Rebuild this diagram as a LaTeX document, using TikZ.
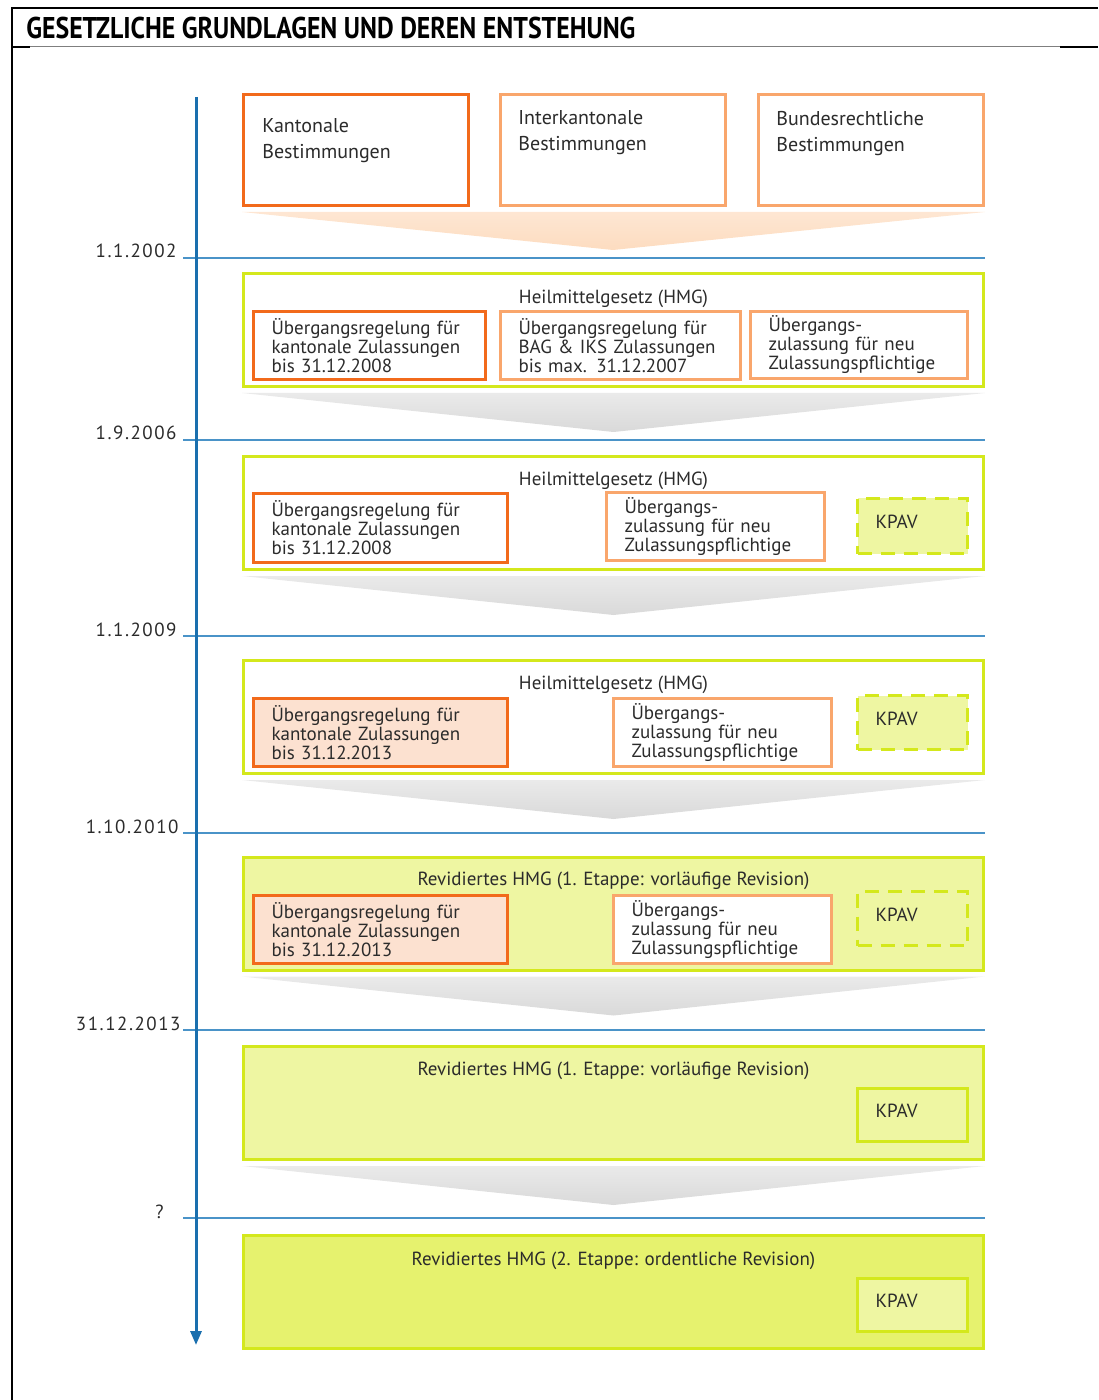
\documentclass[tikz,border=0pt]{standalone}
\usepackage{fontspec}
\setmainfont{PT Sans}
\newfontfamily\titlefont{PT Sans}[FakeStretch=0.86]
\newfontfamily\spacedfont{PT Sans}[LetterSpace=8]
\usepackage{xcolor}
\definecolor{cText}{HTML}{2B2B2B}
\definecolor{cLime}{HTML}{D4E81C}
\definecolor{cLimeLight}{HTML}{EEF6A2}
\definecolor{cLimeMid}{HTML}{E6F26E}
\definecolor{cOrange}{HTML}{F26A1B}
\definecolor{cOrangeLight}{HTML}{F9A66C}
\definecolor{cPeach}{HTML}{FCE1D0}
\definecolor{cFunnel}{HTML}{FDDCC0}
\definecolor{cFunnelGray}{HTML}{D9D9D9}
\definecolor{cBlue}{HTML}{1A6FAE}
\definecolor{cBlueLight}{HTML}{4A93C8}
\definecolor{cRule}{HTML}{7F7F7F}
\usepackage{tikz}
\usetikzlibrary{positioning,arrows.meta,calc}
\tikzset{
  frame/.style={draw=black,line width=1pt},
  node-panel/.style={draw=cLime,line width=1.5pt,minimum width=370pt,
    minimum height=56.5pt,inner sep=0pt},
  node-src/.style={draw=cOrangeLight,line width=1.5pt,fill=white,
    minimum width=112.5pt,minimum height=55.5pt,inner sep=0pt},
  node-src-main/.style={node-src,draw=cOrange},
  node-sub/.style={draw=cOrangeLight,line width=1.2pt,fill=white,align=left,
    inner xsep=9pt,inner ysep=0pt},
  node-sub-main/.style={node-sub,draw=cOrange,line width=1.5pt},
  node-kpav/.style={draw=cLime,line width=1.5pt,align=left,inner xsep=9pt,
    inner ysep=0pt,text depth=4pt,minimum width=55pt,text width=37pt},
  node-kpav-new/.style={node-kpav,dash pattern=on 7pt off 4.5pt},
  node-size/.style n args={3}{minimum width=#1,text width=#2,minimum height=#3},
  node-title/.style={inner sep=0pt},
  node-head/.style={inner sep=0pt,align=left,font=\fontsize{10}{13}\selectfont},
  node-date/.style={inner sep=0pt,font=\spacedfont\fontsize{9.5}{9.5}\selectfont},
  funnel/.style={top color=cFunnelGray!55,bottom color=cFunnelGray},
  funnel-src/.style={top color=cFunnel!70,bottom color=cFunnel},
  line-date/.style={draw=cBlueLight,line width=0.8pt},
  arrow-time/.style={-{Triangle[length=7pt,width=5.5pt]},draw=cBlue,line width=1.5pt},
}

\begin{document}
\begin{tikzpicture}[x=0.5pt,y=-0.5pt,font=\fontsize{9.5}{9.5}\selectfont,text=cText]
  \useasboundingbox (0,0) rectangle (1098,1400);
  \draw[frame] (12,1400) -- (12,8) -- (1098,8);
  \draw[cRule,line width=0.5pt] (30,47) -- (1060,47);
  \draw[frame] (12,47) -- (30,47) (1060,47) -- (1098,47);
  \node[anchor=west,inner sep=0pt,text=black,
    font=\titlefont\bfseries\fontsize{15}{15}\selectfont] (title) at (26,28)
    {GESETZLICHE GRUNDLAGEN UND DEREN ENTSTEHUNG};

  % Zeitachse
  \foreach \y/\d/\x [count=\i] in {258/1.1.2002/177,440/1.9.2006/177,
      636/1.1.2009/177,833/1.10.2010/179,1030/31.12.2013/181,1218/?/164}{
    \draw[line-date] (183,\y) -- (985,\y);
    \node[node-date,anchor=base east] (d\i) at (\x,\y) {\d};
  }
  \coordinate (t-top) at (196,97);
  \coordinate (t-end) at (196,1345);
  \draw[arrow-time] (t-top) -- (t-end);

  % Ausgangslage
  \node[node-src-main] (kt) at (356,150) {};
  \node[node-src] (ik) at (613,150) {};
  \node[node-src] (bu) at (871,150) {};
  \node[node-head,below right=12.8pt and 10pt of kt.north west] (kt-text) {Kantonale\\Bestimmungen};
  \node[node-head,below right=8.8pt and 9.5pt of ik.north west] (ik-text) {Interkantonale\\Bestimmungen};
  \node[node-head,below right=8.8pt and 9.5pt of bu.north west] (bu-text) {Bundesrechtliche\\Bestimmungen};
  \shade[funnel-src] ($(kt.south west)+(0,5)$) -- ($(bu.south east)+(0,5)$)
    -- ($(ik.south)+(0,43)$) -- cycle;

  % 1.1.2002
  \node[node-panel,fill=white] (p1) at (613.5,330) {};
  \node[node-title,below=8.8pt of p1.north] (p1-title) {Heilmittelgesetz (HMG)};
  \node[node-sub-main,node-size={116pt}{98pt}{34pt}] (s11) at (369.5,345.5)
    {Übergangsregelung für\\kantonale Zulassungen\\bis 31.12.2008};
  \node[node-sub,node-size={120pt}{102pt}{34pt}] (s12) at (620.5,345.5)
    {Übergangsregelung für\\BAG \& IKS Zulassungen\\bis max. 31.12.2007};
  \node[node-sub,node-size={108.5pt}{90.5pt}{33.5pt}] (s13) at (859,345)
    {Übergangs-\\zulassung für neu\\Zulassungspflichtige};
  \shade[funnel] ($(p1.south west)+(0,5)$) -- ($(p1.south east)+(0,5)$)
    -- ($(p1.south)+(0,44)$) -- cycle;

  % 1.9.2006
  \node[node-panel,fill=white] (p2) at (613.5,513) {};
  \node[node-title,below=8.2pt of p2.north] (p2-title) {Heilmittelgesetz (HMG)};
  \node[node-sub-main,node-size={127pt}{109pt}{34.5pt}] (s21) at (380.5,528)
    {Übergangsregelung für\\kantonale Zulassungen\\bis 31.12.2008};
  \node[node-sub,node-size={109pt}{91pt}{34pt}] (s22) at (715.5,526.5)
    {Übergangs-\\zulassung für neu\\Zulassungspflichtige};
  \node[node-kpav-new,fill=cLimeLight,minimum height=27.5pt] (k2) at (912.5,526) {KPAV};
  \shade[funnel] ($(p2.south west)+(0,5)$) -- ($(p2.south east)+(0,5)$)
    -- ($(p2.south)+(0,44)$) -- cycle;

  % 1.1.2009
  \node[node-panel,fill=white] (p3) at (613.5,717) {};
  \node[node-title,below=8.5pt of p3.north] (p3-title) {Heilmittelgesetz (HMG)};
  \node[node-sub-main,fill=cPeach,node-size={127pt}{109pt}{34pt}] (s31) at (380.5,732.5)
    {Übergangsregelung für\\kantonale Zulassungen\\bis 31.12.2013};
  \node[node-sub,node-size={109pt}{91pt}{34pt}] (s32) at (722.5,732.5)
    {Übergangs-\\zulassung für neu\\Zulassungspflichtige};
  \node[node-kpav-new,fill=cLimeLight,minimum height=27pt] (k3) at (912.5,722.5) {KPAV};
  \shade[funnel] ($(p3.south west)+(0,5)$) -- ($(p3.south east)+(0,5)$)
    -- ($(p3.south)+(0,44)$) -- cycle;

  % 1.10.2010
  \node[node-panel,fill=cLimeLight] (p4) at (613.5,913.5) {};
  \node[node-title,below=8.2pt of p4.north] (p4-title) {Revidiertes HMG (1. Etappe: vorläufige Revision)};
  \node[node-sub-main,fill=cPeach,node-size={127pt}{109pt}{34pt}] (s41) at (380.5,929.5)
    {Übergangsregelung für\\kantonale Zulassungen\\bis 31.12.2013};
  \node[node-sub,node-size={109pt}{91pt}{34pt}] (s42) at (722.5,929.5)
    {Übergangs-\\zulassung für neu\\Zulassungspflichtige};
  \node[node-kpav-new,minimum height=27pt] (k4) at (912.5,918.5) {KPAV};
  \shade[funnel] ($(p4.south west)+(0,5)$) -- ($(p4.south east)+(0,5)$)
    -- ($(p4.south)+(0,44)$) -- cycle;

  % 31.12.2013
  \node[node-panel,fill=cLimeLight] (p5) at (613.5,1103) {};
  \node[node-title,below=8.2pt of p5.north] (p5-title) {Revidiertes HMG (1. Etappe: vorläufige Revision)};
  \node[node-kpav,fill=cLimeLight,minimum height=26.5pt] (k5) at (912.5,1115) {KPAV};
  \shade[funnel] ($(p5.south west)+(0,5)$) -- ($(p5.south east)+(0,5)$)
    -- ($(p5.south)+(0,44)$) -- cycle;

  % ?
  \node[node-panel,fill=cLimeMid] (p6) at (613.5,1291.5) {};
  \node[node-title,below=9pt of p6.north] (p6-title) {Revidiertes HMG (2. Etappe: ordentliche Revision)};
  \node[node-kpav,fill=cLimeLight,minimum height=26.5pt] (k6) at (912.5,1305) {KPAV};
\end{tikzpicture}
\end{document}
